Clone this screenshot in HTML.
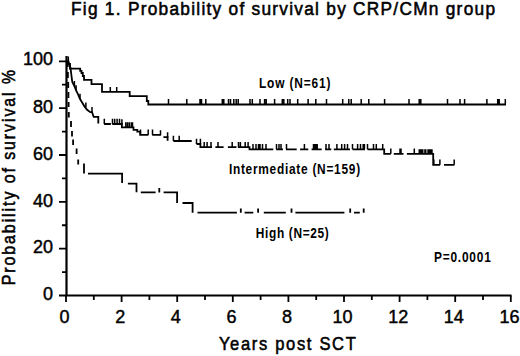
<!DOCTYPE html>
<html><head><meta charset="utf-8"><style>
html,body{margin:0;padding:0;background:#fff;}
svg{display:block;}
text{font-family:"Liberation Sans",sans-serif;}
</style></head><body>
<svg width="520" height="356" viewBox="0 0 520 356" font-family="Liberation Sans, sans-serif">
<rect width="520" height="356" fill="#fff"/>
<path d="M66.5,56 V296.5 M65.5,295.5 H511.5" stroke="#000" stroke-width="2.2" fill="none"/>
<path d="M59,295.5 H66.5 M62,272.08 H66.5 M59,248.66 H66.5 M62,225.24 H66.5 M59,201.82 H66.5 M62,178.4 H66.5 M59,154.98 H66.5 M62,131.56 H66.5 M59,108.14 H66.5 M62,84.72 H66.5 M59,61.3 H66.5" stroke="#000" stroke-width="1.8" fill="none"/>
<path d="M66,295.5 V302 M93.8,295.5 V300 M121.6,295.5 V302 M149.4,295.5 V300 M177.2,295.5 V302 M205,295.5 V300 M232.8,295.5 V302 M260.6,295.5 V300 M288.4,295.5 V302 M316.2,295.5 V300 M344,295.5 V302 M371.8,295.5 V300 M399.6,295.5 V302 M427.4,295.5 V300 M455.2,295.5 V302 M483,295.5 V300 M510.8,295.5 V302" stroke="#000" stroke-width="1.8" fill="none"/>
<g font-size="18" fill="#000" stroke="#000" stroke-width="0.45"><text x="53" y="299.8" text-anchor="end">0</text><text x="53" y="253.3" text-anchor="end">20</text><text x="53" y="206.6" text-anchor="end">40</text><text x="53" y="159.7" text-anchor="end">60</text><text x="53" y="113.0" text-anchor="end">80</text><text x="53" y="65.2" text-anchor="end">100</text><text x="64.6" y="323" text-anchor="middle">0</text><text x="120.2" y="323" text-anchor="middle">2</text><text x="175.8" y="323" text-anchor="middle">4</text><text x="231.4" y="323" text-anchor="middle">6</text><text x="287" y="323" text-anchor="middle">8</text><text x="342.6" y="323" text-anchor="middle">10</text><text x="398.2" y="323" text-anchor="middle">12</text><text x="453.8" y="323" text-anchor="middle">14</text><text x="509.4" y="323" text-anchor="middle">16</text></g>
<path d="M66.5,61.3 H68.5 V64 H70 V68.7 H80.2 V70.8 H81.5 V73 H82.8 V76 H84 V79.8 H91.5 V84.2 H102 V91.9 H129.7 V96.2 H146.8 V101 H148.3 V104.5 H506" stroke="#000" stroke-width="1.8" fill="none"/>
<path d="M68.3,56.5 V61 M110.3,91.9 V87 M116.7,91.9 V87 M168.5,104.5 V99 M186.8,104.5 V99 M200,104.5 V99 M201.5,104.5 V99 M205.8,104.5 V99 M222.3,104.5 V99 M223.8,104.5 V99 M228.5,104.5 V99 M230.5,104.5 V99 M233.8,104.5 V99 M236.2,104.5 V99 M238.2,104.5 V99 M250,104.5 V99 M252.3,104.5 V99 M260,104.5 V99 M264.6,104.5 V99 M266.2,104.5 V99 M274.6,104.5 V99 M282.3,104.5 V99 M283.8,104.5 V99 M287.7,104.5 V99 M290,104.5 V99 M297.7,104.5 V99 M308.1,104.5 V99 M315.8,104.5 V99 M326.5,104.5 V99 M342.7,104.5 V99 M348.8,104.5 V99 M351.2,104.5 V99 M361.2,104.5 V99 M368.8,104.5 V99 M384.6,104.5 V99 M409,104.5 V99 M419.2,104.5 V99 M420.8,104.5 V99 M447.5,104.5 V99 M460,104.5 V99 M464.6,104.5 V99 M486.9,104.5 V99 M497.7,104.5 V99 M499.2,104.5 V99 M505.3,104.5 V99" stroke="#000" stroke-width="1.5" fill="none"/>
<path d="M67.5,61 L69.5,64 L70.5,68 L71.5,76 L72.3,82 L74.4,86.2 L76.1,90.4 L78.2,94.6 L79.9,98.8 L82,102.2 L84.5,106.4 L87.1,109.8 L90.3,112.2 H92 L93.7,116.8 H98.3 V123.5 M104.1,124 H110.9 M112.3,124 H121.9 V127.4 H133.5 V129.8 H137.3 V131.7 H140.2 V134.8 H148.4 M152.2,134.8 H160.5 M163.4,137.2 H167.6 V140.8 M173.4,141 H191.7 M196.5,144 H200.4 V147.2 H212 M215.4,147.2 H223.6 M227.9,147.2 H236.5 M238,147.2 H249.5 V149.3 H273.3 M276.2,149.3 H283 M286,149.3 H296.7 M300.1,149.3 H308.3 M311.6,149.3 H321.7 M325.1,149.3 H331.3 M333.8,149.3 H350 M352.5,149.3 H365 M367.5,149.3 H384.2 V153.8 H390.8 M393.8,153.8 H403.5 M406.9,153.8 H433.2 V164.8 H440.1 M444,164.8 H454.4" stroke="#000" stroke-width="1.8" fill="none"/>
<path d="M74.4,86.2 V81 M76.1,90.4 V85.2 M80,99 V93.8 M92,112.2 V107 M85.9,107.6 V102.4 M104.3,124 V118.8 M112.5,124 V118.8 M114.7,124 V118.8 M117.1,124 V118.8 M119.5,124 V118.8 M121.9,124.5 V119.3 M125.8,127.4 V122.2 M127.5,127.4 V122.2 M129.3,127.4 V122.2 M131.3,127.4 V122.2 M132.5,127.4 V122.2 M140.5,134.8 V129.6 M148.2,134.8 V129.6 M152.5,134.8 V129.6 M160.5,135.5 V130.3 M167.6,137.5 V132.3 M173.4,141 V135.8 M179.2,141 V135.8 M196.5,144 V138.8 M200.4,144 V138.8 M204.2,147.2 V142 M207.1,147.2 V142 M211,147.2 V142 M218,147.2 V142 M232.2,147.2 V142 M238.5,147.2 V142 M240.4,147.2 V142 M245.2,147.2 V142 M248.1,147.2 V142 M253,149.3 V144.1 M256,149.3 V144.1 M258.5,149.3 V144.1 M260,149.3 V144.1 M262.5,149.3 V144.1 M266,149.3 V144.1 M276.5,149.3 V144.1 M279,149.3 V144.1 M281,149.3 V144.1 M286.5,149.3 V144.1 M304.4,149.3 V144.1 M313.5,149.3 V144.1 M314.7,149.3 V144.1 M316,149.3 V144.1 M317.2,149.3 V144.1 M326,149.3 V144.1 M329,149.3 V144.1 M336.9,149.3 V144.1 M341.7,149.3 V144.1 M344.6,149.3 V144.1 M347.5,149.3 V144.1 M352.5,149.3 V144.1 M357.6,149.3 V144.1 M360.5,149.3 V144.1 M363.2,149.3 V144.1 M364.4,149.3 V144.1 M367.5,149.3 V144.1 M373.5,149.3 V144.1 M376.3,149.3 V144.1 M382.7,149.3 V144.1 M390.8,153.8 V148.6 M400,153.8 V148.6 M401,153.8 V148.6 M414.3,153.8 V148.6 M433.8,164.8 V159.6 M439.9,164.8 V159.6 M454.2,164.8 V159.6" stroke="#000" stroke-width="1.5" fill="none"/>
<path d="M418.5,149.2 h5 v4.3 h-5 z M424.2,149.2 h2.3 v4.3 h-2.3 z M427.3,149.2 h5.4 v4.3 h-5.4 z" fill="#000"/>
<path d="M67.8,62 V67 M67.9,72 V78 M68.2,82 V88 M68.4,92 V98 M68.6,102 V107 M68.8,112 V117.5 M71,121 V127 M72,131 V136.5 M73.1,139.5 V145 M76.6,148.5 V154 M78.2,159.5 V164.5 M84,163.5 V173.6 M88,173.6 H122.1 V183 M127.9,183.7 H136.5 V192.3 M140.8,192.4 H155.6 M159.3,188 V192.4 M163.6,192.4 H177.1 V203 M182.5,203 H192.6 V212.7 M197.5,212.7 H236.9 M240.8,208.5 V212.7 M244.6,212.7 H253.3 M258.1,208.5 V212.7 M263.8,212.7 H285.8 M291.5,208.5 V212.7 M295.4,212.7 H344.4 M350.2,208.5 V212.7 M354,212.7 H359.8 M363.7,208.5 V212.7" stroke="#000" stroke-width="1.8" fill="none"/>
<text transform="translate(71,15.1) scale(0.96,1)" font-family="Liberation Sans" font-size="18" font-weight="normal" stroke="#000" stroke-width="0.55" textLength="441.67" lengthAdjust="spacing">Fig 1. Probability of survival by CRP/CMn group</text>
<text transform="translate(218.9,350.2) scale(0.92,1)" font-family="Liberation Sans" font-size="18" font-weight="normal" stroke="#000" stroke-width="0.55" textLength="148.8" lengthAdjust="spacing">Years post SCT</text>
<text transform="translate(15.3,285.2) rotate(-90) scale(0.88,1)" font-family="Liberation Sans" font-size="18" font-weight="normal" stroke="#000" stroke-width="0.55" textLength="244.55" lengthAdjust="spacing">Probability of survival %</text>
<text transform="translate(259,87.9) scale(0.85,1)" font-family="Liberation Sans" font-size="14" font-weight="bold" textLength="84.12" lengthAdjust="spacing">Low (N=61)</text>
<text transform="translate(228.9,173.5) scale(0.85,1)" font-family="Liberation Sans" font-size="14" font-weight="bold" textLength="154.35" lengthAdjust="spacing">Intermediate (N=159)</text>
<text transform="translate(255.8,238) scale(0.85,1)" font-family="Liberation Sans" font-size="14" font-weight="bold" textLength="85.88" lengthAdjust="spacing">High (N=25)</text>
<text transform="translate(434,261.6) scale(0.85,1)" font-family="Liberation Sans" font-size="14" font-weight="bold" textLength="66.82" lengthAdjust="spacing">P=0.0001</text>
</svg>
</body></html>
